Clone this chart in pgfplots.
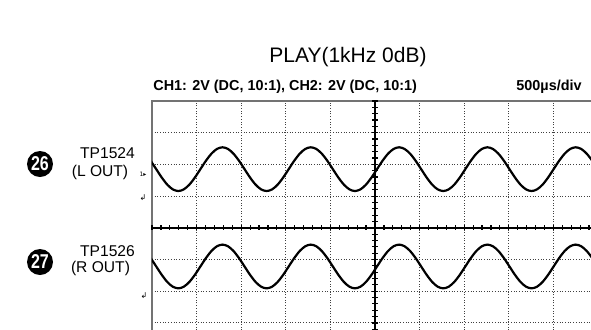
\documentclass[border=0pt]{standalone}
\usepackage{graphicx}
\usepackage{pgfplots}
\usepackage{pgfplotstable}
\pgfplotsset{compat=1.18}
\usepackage{fontspec}
\setmainfont{Liberation Sans}
\newfontfamily\symfont{DejaVu Sans}

\pgfplotstableread{
x top bot
-0.0288 2.1141 -0.9559
0.095 1.85 -1.22
0.2188 1.5859 -1.4841
0.3425 1.3621 -1.7079
0.4663 1.2125 -1.8575
0.59 1.16 -1.91
0.7138 1.2125 -1.8575
0.8375 1.3621 -1.7079
0.9613 1.5859 -1.4841
1.085 1.85 -1.22
1.2088 2.1141 -0.9559
1.3325 2.3379 -0.7321
1.4563 2.4875 -0.5825
1.58 2.54 -0.53
1.7038 2.4875 -0.5825
1.8275 2.3379 -0.7321
1.9513 2.1141 -0.9559
2.075 1.85 -1.22
2.1988 1.5859 -1.4841
2.3225 1.3621 -1.7079
2.4463 1.2125 -1.8575
2.57 1.16 -1.91
2.6938 1.2125 -1.8575
2.8175 1.3621 -1.7079
2.9413 1.5859 -1.4841
3.065 1.85 -1.22
3.1888 2.1141 -0.9559
3.3125 2.3379 -0.7321
3.4363 2.4875 -0.5825
3.56 2.54 -0.53
3.6838 2.4875 -0.5825
3.8075 2.3379 -0.7321
3.9313 2.1141 -0.9559
4.055 1.85 -1.22
4.1788 1.5859 -1.4841
4.3025 1.3621 -1.7079
4.4263 1.2125 -1.8575
4.55 1.16 -1.91
4.6738 1.2125 -1.8575
4.7975 1.3621 -1.7079
4.9213 1.5859 -1.4841
5.045 1.85 -1.22
5.1688 2.1141 -0.9559
5.2925 2.3379 -0.7321
5.4163 2.4875 -0.5825
5.54 2.54 -0.53
5.6638 2.4875 -0.5825
5.7875 2.3379 -0.7321
5.9113 2.1141 -0.9559
6.035 1.85 -1.22
6.1588 1.5859 -1.4841
6.2825 1.3621 -1.7079
6.4063 1.2125 -1.8575
6.53 1.16 -1.91
6.6538 1.2125 -1.8575
6.7775 1.3621 -1.7079
6.9013 1.5859 -1.4841
7.025 1.85 -1.22
7.1488 2.1141 -0.9559
7.2725 2.3379 -0.7321
7.3963 2.4875 -0.5825
7.52 2.54 -0.53
7.6438 2.4875 -0.5825
7.7675 2.3379 -0.7321
7.8913 2.1141 -0.9559
8.015 1.85 -1.22
8.1388 1.5859 -1.4841
8.2625 1.3621 -1.7079
8.3863 1.2125 -1.8575
8.51 1.16 -1.91
8.6338 1.2125 -1.8575
8.7575 1.3621 -1.7079
8.8813 1.5859 -1.4841
9.005 1.85 -1.22
9.1288 2.1141 -0.9559
9.2525 2.3379 -0.7321
9.3763 2.4875 -0.5825
9.5 2.54 -0.53
9.6238 2.4875 -0.5825
9.7475 2.3379 -0.7321
9.8713 2.1141 -0.9559
9.995 1.85 -1.22
10.1188 1.5859 -1.4841
}\wave

\begin{document}
\begin{tikzpicture}
\useasboundingbox (0,0) rectangle (295.5pt,-164.5pt);
\clip (0,0) rectangle (295.5pt,-164.5pt);
\begin{axis}[
  at={(76pt,-50.5pt)}, anchor=north west,
  scale only axis, width=223pt, height=126.8pt,
  xmin=0, xmax=10, ymin=-4, ymax=4,
  xtick={0,1,...,10}, ytick={-4,-3,...,4},
  xticklabels={}, yticklabels={},
  major tick length=0pt,
  grid=major,
  grid style={black!75, line width=0.5pt, dash pattern=on 0.45pt off 0.9pt},
  axis line style={draw=black!55, line width=0.9pt},
]
\addplot[black, line width=0.7pt, mark=|, mark size=1.3pt, mark options={line width=0.6pt}] coordinates {
(0,0)(0.2,0)(0.4,0)(0.6,0)(0.8,0)(1,0)(1.2,0)(1.4,0)(1.6,0)(1.8,0)
(2,0)(2.2,0)(2.4,0)(2.6,0)(2.8,0)(3,0)(3.2,0)(3.4,0)(3.6,0)(3.8,0)
(4,0)(4.2,0)(4.4,0)(4.6,0)(4.8,0)(5,0)(5.2,0)(5.4,0)(5.6,0)(5.8,0)
(6,0)(6.2,0)(6.4,0)(6.6,0)(6.8,0)(7,0)(7.2,0)(7.4,0)(7.6,0)(7.8,0)
(8,0)(8.2,0)(8.4,0)(8.6,0)(8.8,0)(9,0)(9.2,0)(9.4,0)(9.6,0)(9.8,0)(10,0)};
\addplot[black, line width=0.7pt, mark=-, mark size=1.3pt, mark options={line width=0.6pt}] coordinates {
(5,-4)(5,-3.8)(5,-3.6)(5,-3.4)(5,-3.2)(5,-3)(5,-2.8)(5,-2.6)(5,-2.4)(5,-2.2)
(5,-2)(5,-1.8)(5,-1.6)(5,-1.4)(5,-1.2)(5,-1)(5,-0.8)(5,-0.6)(5,-0.4)(5,-0.2)
(5,0)(5,0.2)(5,0.4)(5,0.6)(5,0.8)(5,1)(5,1.2)(5,1.4)(5,1.6)(5,1.8)
(5,2)(5,2.2)(5,2.4)(5,2.6)(5,2.8)(5,3)(5,3.2)(5,3.4)(5,3.6)(5,3.8)(5,4)};
\addplot[black, line width=1.1pt, smooth] table[x=x, y=top] {\wave};
\addplot[black, line width=1.1pt, smooth] table[x=x, y=bot] {\wave};
\end{axis}
\node[font=\fontsize{10.5pt}{12pt}\selectfont, inner sep=0pt] at (174pt,-28.5pt) {PLAY(1kHz 0dB)};
\node[font=\fontsize{7.2pt}{9pt}\selectfont\bfseries, anchor=west, inner sep=0pt] at (76.5pt,-43.5pt) {CH1: 2V (DC, 10:1), CH2: 2V (DC, 10:1)};
\node[font=\fontsize{7.2pt}{9pt}\selectfont\bfseries, anchor=east, inner sep=0pt] at (291pt,-43.5pt) {500µs/div};
\node[font=\fontsize{7.8pt}{9pt}\selectfont, inner sep=0pt] at (53.75pt,-76.5pt) {TP1524};
\node[font=\fontsize{7.8pt}{9pt}\selectfont, inner sep=0pt] at (50pt,-86pt) {(L OUT)};
\node[font=\fontsize{7.8pt}{9pt}\selectfont, inner sep=0pt] at (53.75pt,-125.5pt) {TP1526};
\node[font=\fontsize{7.8pt}{9pt}\selectfont, inner sep=0pt] at (50.25pt,-134pt) {(R OUT)};
\fill[black] (20pt,-82pt) circle (6.5pt);
\fill[black] (20pt,-131pt) circle (6.5pt);
\node[white, font=\fontsize{10pt}{11pt}\selectfont\bfseries, inner sep=0pt] at (20pt,-82pt) {\scalebox{0.8}[1]{26}};
\node[white, font=\fontsize{10pt}{11pt}\selectfont\bfseries, inner sep=0pt] at (20pt,-131pt) {\scalebox{0.8}[1]{27}};
\node[font=\fontsize{3pt}{3pt}\selectfont\symfont, inner sep=0pt] at (71.5pt,-87pt) {1▸};
\node[font=\fontsize{4pt}{4pt}\selectfont\symfont, inner sep=0pt] at (71.5pt,-99pt) {↲};
\node[font=\fontsize{4pt}{4pt}\selectfont\symfont, inner sep=0pt] at (72pt,-148pt) {↲};
\end{tikzpicture}
\end{document}
